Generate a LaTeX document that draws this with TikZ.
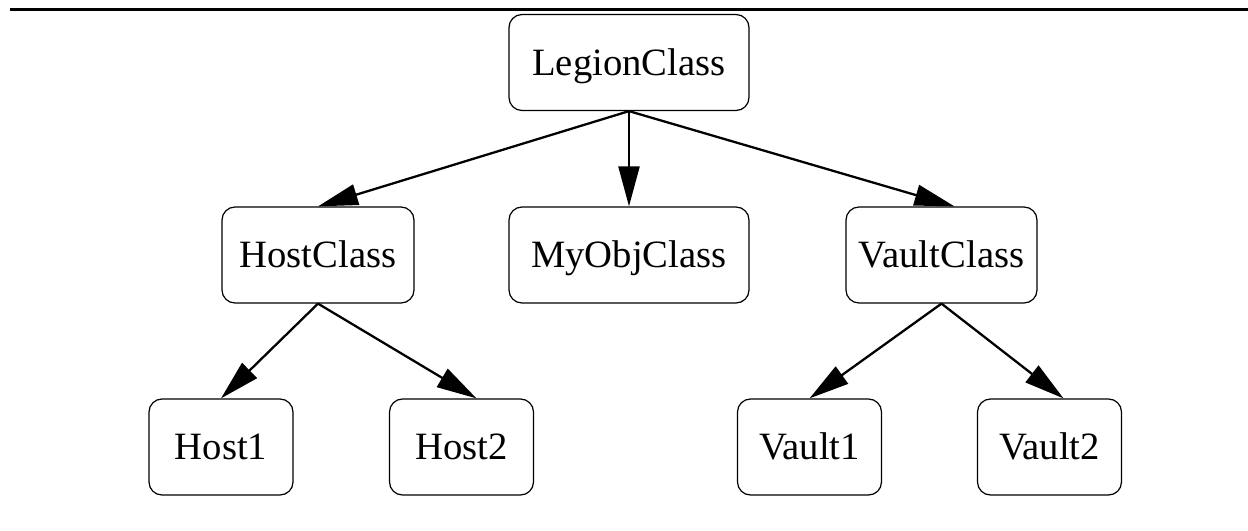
\documentclass[tikz,border=0pt]{standalone}
\usepackage{fontspec}
\setmainfont{Liberation Serif}
\usetikzlibrary{arrows.meta}

\begin{document}
\begin{tikzpicture}[
  >={Triangle[length=0.8cm, width=0.42cm]},
  klasse/.style={draw, line width=0.7pt, rounded corners=0.26cm, minimum height=1.92cm,
    inner sep=0pt, text height=0.51cm, text depth=0cm, font=\fontsize{22}{26}\selectfont},
  pfeil/.style={->, line width=1.3pt}
]

  % Rahmen
  \useasboundingbox (0,0) rectangle (24.96,-10.62);
  \coordinate (linksOben) at (0.2,-0.19);
  \coordinate (rechtsOben) at (24.96,-0.19);
  \draw[line width=0.06cm] (linksOben) -- (rechtsOben); % Linie oben

  % Wurzel
  \node[klasse, minimum width=4.8cm] (legion) at (12.58,-1.25) {LegionClass};

  % Ebene 2
  \node[klasse, minimum width=3.84cm] (hostclass) at (6.36,-5.1) {HostClass};
  \node[klasse, minimum width=4.8cm] (myobj) at (12.58,-5.1) {MyObjClass};
  \node[klasse, minimum width=3.82cm] (vaultclass) at (18.83,-5.1) {VaultClass};

  % Ebene 3
  \node[klasse, minimum width=2.88cm] (host1) at (4.42,-8.94) {Host1};
  \node[klasse, minimum width=2.88cm] (host2) at (9.23,-8.94) {Host2};
  \node[klasse, minimum width=2.88cm] (vault1) at (16.19,-8.94) {Vault1};
  \node[klasse, minimum width=2.88cm] (vault2) at (20.99,-8.94) {Vault2};

  % Kanten
  \draw[pfeil] (legion.south) -- (hostclass.north);
  \draw[pfeil] (legion.south) -- (myobj.north);
  \draw[pfeil] (legion.south) -- ([xshift=0.26cm]vaultclass.north);
  \draw[pfeil] (hostclass.south) -- (host1.north);
  \draw[pfeil] (hostclass.south) -- ([xshift=0.3cm]host2.north);
  \draw[pfeil] (vaultclass.south) -- (vault1.north);
  \draw[pfeil] (vaultclass.south) -- ([xshift=0.28cm]vault2.north);

\end{tikzpicture}
\end{document}
